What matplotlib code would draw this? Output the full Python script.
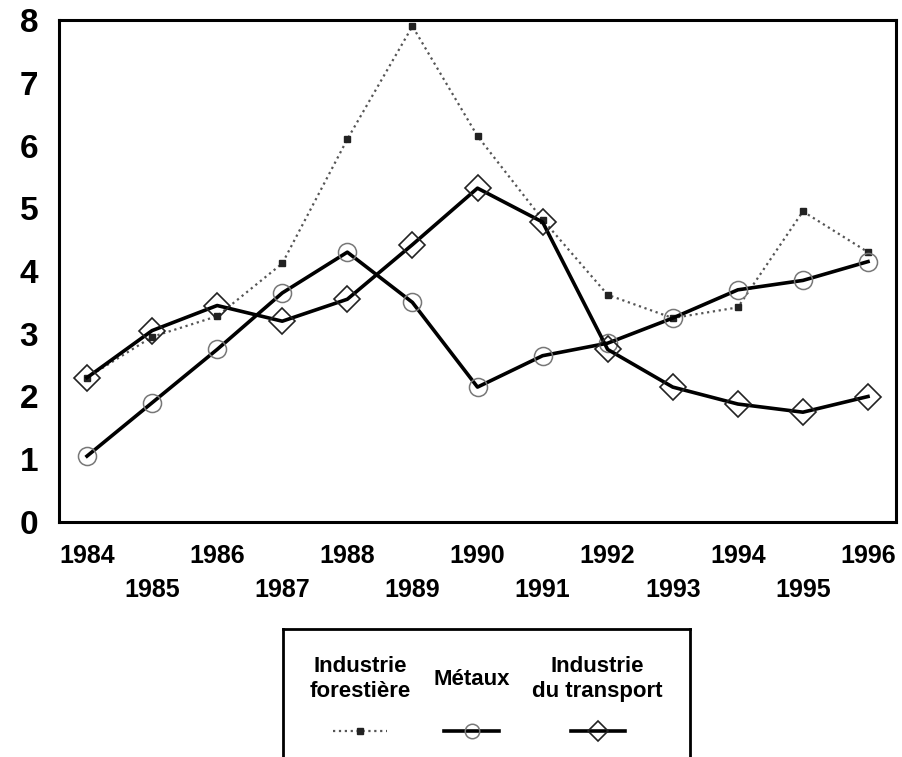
import numpy as np
import matplotlib.pyplot as plt
from matplotlib.lines import Line2D

plt.rcParams['font.family'] = ['Liberation Sans', 'DejaVu Sans']
plt.rcParams['font.weight'] = 'bold'

# data
years = list(range(1984, 1997))
forestiere = [2.3, 2.95, 3.28, 4.12, 6.1, 7.9, 6.15, 4.82, 3.62, 3.25, 3.42, 4.95, 4.3]
metaux = [1.05, 1.9, 2.75, 3.65, 4.3, 3.5, 2.15, 2.65, 2.85, 3.25, 3.7, 3.85, 4.15]
transport = [2.3, 3.05, 3.45, 3.2, 3.55, 4.42, 5.32, 4.78, 2.75, 2.15, 1.88, 1.75, 2.0]
labels = ['Industrie\nforestière', 'Métaux', 'Industrie\ndu transport']
yticks = [0, 1, 2, 3, 4, 5, 6, 7, 8]

fig = plt.figure(figsize=(9.02, 7.57), dpi=100)
ax = fig.add_axes([59/902, 1 - 522/757, (896 - 59)/902, (522 - 20)/757])

styles = [
    dict(color='#555555', lw=1.6, ls=':', marker='s', ms=5, mfc='#222222', mec='#222222'),
    dict(color='black', lw=2.6, ls='-', marker='o', ms=13, mfc='none', mec='#777777', mew=1.1),
    dict(color='black', lw=2.6, ls='-', marker='D', ms=13, mfc='none', mec='#222222', mew=1.2),
]
series = [forestiere, metaux, transport]
for s, st in zip(series, styles):
    ax.plot(years, s, **st)

ax.set_xlim(1983.57, 1996.43)
ax.set_ylim(0, 8)
ax.set_yticks(yticks)
ax.set_yticklabels([str(v) for v in yticks], fontsize=24, fontweight='bold')
ax.set_xticks(years[::2])
ax.set_xticklabels([str(y) for y in years[::2]], fontsize=18, fontweight='bold')
ax.set_xticks(years[1::2], minor=True)
ax.set_xticklabels([str(y) for y in years[1::2]], minor=True, fontsize=18, fontweight='bold')
ax.tick_params(axis='y', length=0, pad=15)
ax.tick_params(axis='x', which='major', length=0, pad=16)
ax.tick_params(axis='x', which='minor', length=0, pad=40)
for sp in ax.spines.values():
    sp.set_linewidth(2.2)

# legend box drawn by hand: labels above the line samples
lax = fig.add_axes([283/902, -0.02, (690 - 283)/902, (757 - 629)/757 + 0.02])
lax.set_xlim(0, 3)
lax.set_ylim(0, 1)
lax.set_xticks([])
lax.set_yticks([])
for sp in lax.spines.values():
    sp.set_linewidth(2.0)
xc = [0.57, 1.39, 2.32]
for i, (lab, st) in enumerate(zip(labels, styles)):
    lax.text(xc[i], 0.65, lab, ha='center', va='center', fontsize=16,
             fontweight='bold', linespacing=1.3)
    st2 = dict(st)
    st2['ms'] = st['ms'] * 0.8
    lax.add_line(Line2D([xc[i] - 0.2, xc[i], xc[i] + 0.2], [0.29, 0.29, 0.29],
                        markevery=[1], **st2))

fig.savefig('out.png', dpi=100)
